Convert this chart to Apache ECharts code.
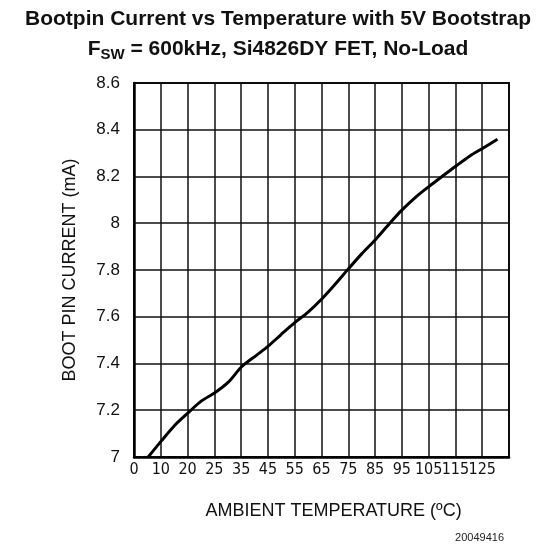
<!DOCTYPE html>
<html>
<head>
<meta charset="utf-8">
<script src="https://cdn.jsdelivr.net/npm/echarts@6/dist/echarts.min.js"></script>
<style>
  html, body { margin: 0; padding: 0; background: #fff; }
  #chart { width: 556px; height: 550px; }
</style>
</head>
<body>
<div id="chart"></div>
<script>
// tick labels as printed under the grid (one per vertical grid line)
var xTickLabels = ['0', '10', '20', '25', '35', '45', '55', '65', '75', '85', '95', '105', '115', '125', ''];
// curve: [x position on grid (10 per division), current mA]
var bootCurrent = [
    [5.3, 7.0], [10.3, 7.07], [15, 7.133], [20.3, 7.19], [25.2, 7.24],
    [30.2, 7.275], [35.2, 7.32], [40.2, 7.386], [45.8, 7.436], [50.1, 7.474],
    [55, 7.525], [60, 7.575], [65, 7.62], [70, 7.675], [75, 7.738],
    [80.2, 7.807], [85, 7.869], [90.3, 7.932], [95.5, 8.0], [99.9, 8.055],
    [105.5, 8.115], [110.2, 8.158], [115, 8.2], [120.1, 8.244], [125.4, 8.288],
    [130.1, 8.32], [135.7, 8.359]
];

var myChart = echarts.init(document.getElementById('chart'));
var option = {
    animation: false,
    title: [
        {
            text: 'Bootpin Current vs Temperature with 5V Bootstrap',
            left: 'center',
            top: 4,
            textStyle: { fontFamily: 'Liberation Sans', fontSize: 21, fontWeight: 'bold', color: '#111' }
        },
        {
            text: '{b|F}{s|SW}{b| = 600kHz, Si4826DY FET, No-Load}',
            left: 'center',
            top: 31,
            textStyle: {
                rich: {
                    b: { fontFamily: 'Liberation Sans', fontSize: 21, fontWeight: 'bold', color: '#111' },
                    s: { fontFamily: 'Liberation Sans', fontSize: 15, fontWeight: 'bold', color: '#111', padding: [11, 0, 0, 0] }
                }
            }
        }
    ],
    grid: {
        left: 134,
        right: 47,
        top: 83,
        bottom: 93,
        show: true,
        borderColor: '#000',
        borderWidth: 2
    },
    xAxis: {
        type: 'value',
        min: 0,
        max: 140,
        interval: 10,
        name: 'AMBIENT TEMPERATURE (ºC)',
        nameLocation: 'middle',
        nameGap: 45,
        nameTextStyle: { fontFamily: 'Liberation Sans', fontSize: 18, color: '#111', padding: [0, 0, 0, 24] },
        axisLine: { lineStyle: { color: '#000', width: 2.5 } },
        axisTick: { show: false },
        axisLabel: {
            margin: 5,
            fontFamily: '"DejaVu Sans Condensed", "Liberation Sans"',
            fontSize: 16,
            color: '#111',
            formatter: function (v) { return xTickLabels[Math.round(v / 10)]; }
        },
        splitLine: { show: true, lineStyle: { color: '#111', width: 1.5 } }
    },
    yAxis: {
        type: 'value',
        min: 7,
        max: 8.6,
        interval: 0.2,
        name: 'BOOT PIN CURRENT (mA)',
        nameLocation: 'middle',
        nameGap: 55,
        nameTextStyle: { fontFamily: 'Liberation Sans', fontSize: 18, color: '#111' },
        axisLine: { lineStyle: { color: '#000', width: 2.5 } },
        axisTick: { show: false },
        axisLabel: {
            margin: 14,
            fontFamily: 'Liberation Sans',
            fontSize: 17,
            color: '#111'
        },
        splitLine: { show: true, lineStyle: { color: '#111', width: 1.5 } }
    },
    graphic: [
        {
            type: 'text',
            right: 52,
            top: 532,
            style: { text: '20049416', font: '11px "Liberation Sans"', fill: '#222' }
        }
    ],
    series: [
        {
            name: 'Boot pin current',
            type: 'line',
            smooth: 0.3,
            showSymbol: false,
            data: bootCurrent,
            lineStyle: { color: '#000', width: 3 }
        }
    ]
};
myChart.setOption(option);
</script>
</body>
</html>
